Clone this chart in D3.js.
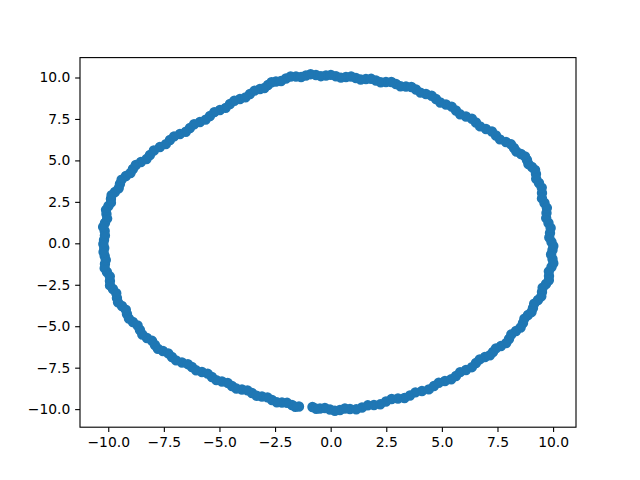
<!DOCTYPE html>
<html>
<head>
<meta charset="utf-8">
<script src="https://cdn.jsdelivr.net/npm/d3@7"></script>
<style>
  html, body { margin: 0; padding: 0; background: #fff; }
  svg { display: block; }
  .tick text { font-family: "DejaVu Sans", sans-serif; font-size: 13.89px; fill: #000; }
</style>
</head>
<body>
<svg id="chart" width="640" height="480"></svg>
<script>
// Scatter point coordinates
const xValues = [
  -10.18, -10.19, -10.16, -10.148, -10.081, -9.991, -9.879, -9.699, -9.474, -9.205,
  -8.890, -8.530, -8.125, -7.676, -7.226, -6.776, -6.327, -5.877, -5.427, -4.978,
  -4.528, -4.078, -3.629, -3.179, -2.819, -2.460, -2.010, -1.560, -1.111, -0.661,
  -0.211, 0.238, 0.688, 1.137, 1.587, 2.037, 2.486, 2.936, 3.386, 3.836,
  4.285, 4.735, 5.184, 5.634, 6.084, 6.533, 6.983, 7.433, 7.882, 8.242,
  8.557, 8.826, 9.051, 9.231, 9.366, 9.501, 9.613, 9.703, 9.793, 9.861,
  9.928, 9.973, 9.973, 9.928, 9.816, 9.681, 9.501, 9.321, 9.096, 8.871,
  8.647, 8.332, 8.017, 7.657, 7.298, 6.938, 6.533, 6.084, 5.634, 5.139,
  4.645, 4.105, 3.565, 3.026, 2.486, 1.947, 1.407, 0.868, 0.418, -0.031,
  -0.481, -0.818, -1.425, -1.740, -2.190, -2.639, -3.089, -3.539, -3.988, -4.438,
  -4.888, -5.338, -5.787, -6.237, -6.686, -7.136, -7.541, -7.900, -8.260, -8.575,
  -8.890, -9.159, -9.384, -9.609, -9.789, -9.924, -10.059, -10.148, -10.16,
  -10.22, -10.15, -10.23, -10.05, -10.10, -9.88, -9.85, -9.53, -9.40, -9.00,
  -8.76, -8.28, -7.95, -7.41, -7.04, -6.51, -6.14, -5.62, -5.23, -4.72,
  -4.33, -3.83, -3.42, -2.98, -2.66, -2.23, -1.80, -1.33, -0.90, -0.44,
  0.01, 0.46, 0.92, 1.35, 1.82, 2.25, 2.73, 3.14, 3.63, 4.04,
  4.54, 4.93, 5.44, 5.82, 6.35, 6.72, 7.25, 7.61, 8.11, 8.35,
  8.74, 8.89, 9.19, 9.24, 9.49, 9.50, 9.72, 9.69, 9.89, 9.83,
  10.01, 9.91, 10.01, 9.81, 9.81, 9.53, 9.47, 9.15, 9.03, 8.71,
  8.54, 8.12, 7.89, 7.43, 7.16, 6.70, 6.35, 5.82, 5.42, 4.86,
  4.41, 3.81, 3.32, 2.74, 2.23, 1.67, 1.15, 0.64, 0.19, -0.26,
  -0.65, -1.59, -1.96, -2.42, -2.84, -3.33, -3.74, -4.24, -4.63, -5.14,
  -5.53, -6.05, -6.42, -6.95, -7.30, -7.77, -8.03, -8.47, -8.68, -9.07,
  -9.21, -9.56, -9.64, -9.92, -9.93, -10.16, -10.11, -10.21
];
const yValues = [
  -0.283, 0.199, 0.742, 1.225, 1.768, 2.250, 2.672, 3.094, 3.577, 4.059,
  4.481, 4.903, 5.326, 5.808, 6.230, 6.592, 6.954, 7.316, 7.678, 8.040,
  8.402, 8.703, 9.005, 9.306, 9.548, 9.759, 9.940, 10.060, 10.121, 10.151,
  10.121, 10.072, 10.030, 9.970, 9.910, 9.819, 9.729, 9.608, 9.457, 9.276,
  9.005, 8.703, 8.372, 8.010, 7.648, 7.286, 6.894, 6.502, 6.110, 5.748,
  5.386, 5.024, 4.602, 4.180, 3.637, 3.034, 2.431, 1.827, 1.224, 0.621,
  0.078, -0.404, -0.947, -1.430, -1.973, -2.455, -2.938, -3.420, -3.903, -4.325,
  -4.807, -5.290, -5.772, -6.194, -6.556, -6.858, -7.220, -7.642, -8.004, -8.305,
  -8.607, -8.909, -9.180, -9.361, -9.542, -9.753, -9.904, -9.994, -10.054, -10.024,
  -9.964, -9.873, -9.843, -9.753, -9.602, -9.451, -9.240, -9.029, -8.818, -8.607,
  -8.335, -8.064, -7.762, -7.461, -7.190, -6.858, -6.496, -6.134, -5.712, -5.229,
  -4.747, -4.264, -3.782, -3.299, -2.757, -2.274, -1.731, -1.249, -0.766,
  -0.04, 0.47, 0.99, 1.49, 2.02, 2.45, 2.90, 3.32, 3.84, 4.24,
  4.72, 5.08, 5.60, 5.98, 6.45, 6.73, 7.18, 7.46, 7.91, 8.17,
  8.60, 8.80, 9.21, 9.37, 9.71, 9.79, 10.06, 10.03, 10.20, 10.08,
  10.16, 9.99, 10.06, 9.88, 9.92, 9.71, 9.73, 9.47, 9.43, 9.09,
  8.90, 8.49, 8.24, 7.78, 7.51, 7.05, 6.74, 6.27, 5.97, 5.54,
  5.24, 4.78, 4.42, 3.89, 3.36, 2.71, 2.14, 1.52, 0.93, 0.35,
  -0.16, -0.67, -1.20, -1.69, -2.23, -2.68, -3.20, -3.64, -4.14, -4.54,
  -5.08, -5.50, -6.02, -6.34, -6.75, -7.00, -7.47, -7.77, -8.20, -8.41,
  -8.81, -8.99, -9.33, -9.39, -9.71, -9.77, -10.01, -9.96, -10.10, -9.93,
  -9.98, -9.86, -9.62, -9.59, -9.29, -9.19, -8.87, -8.76, -8.42, -8.25,
  -7.86, -7.66, -7.29, -7.06, -6.64, -6.36, -5.88, -5.50, -4.96, -4.54,
  -4.00, -3.56, -3.01, -2.54, -1.99, -1.50, -1.00, -0.52
];
const xTicks = [-10, -7.5, -5, -2.5, 0, 2.5, 5, 7.5, 10];
const yTicks = [-10, -7.5, -5, -2.5, 0, 2.5, 5, 7.5, 10];
const xLimits = [-11.27, 11.03];
const yLimits = [-11.09, 11.2];

const svg = d3.select("#chart");
const axL = 80, axR = 576, axT = 57.6, axB = 427.2;
const pt = 100 / 72;

const x = d3.scaleLinear().domain(xLimits).range([axL, axR]);
const y = d3.scaleLinear().domain(yLimits).range([axB, axT]);

const points = xValues.map((v, i) => ({ x: v, y: yValues[i] }));

svg.append("clipPath").attr("id", "plotclip")
  .append("rect").attr("x", axL).attr("y", axT)
  .attr("width", axR - axL).attr("height", axB - axT);

svg.append("g").attr("clip-path", "url(#plotclip)")
  .selectAll("circle").data(points).join("circle")
  .attr("cx", d => x(d.x))
  .attr("cy", d => y(d.y))
  .attr("r", 3 * pt)
  .attr("fill", "#1f77b4")
  .attr("stroke", "#1f77b4")
  .attr("stroke-width", 1.5 * pt);

const fmt = d3.format(".1f");
const tickLen = 3.5 * pt, tickPad = 3.5 * pt;

const xAxis = svg.append("g").attr("transform", `translate(0,${axB})`)
  .call(d3.axisBottom(x).tickValues(xTicks).tickFormat(fmt).tickSize(tickLen).tickPadding(tickPad).tickSizeOuter(0));
const yAxis = svg.append("g").attr("transform", `translate(${axL},0)`)
  .call(d3.axisLeft(y).tickValues(yTicks).tickFormat(fmt).tickSize(tickLen).tickPadding(tickPad).tickSizeOuter(0));

[xAxis, yAxis].forEach(g => {
  g.select(".domain").remove();
  g.selectAll(".tick line").attr("stroke", "#000").attr("stroke-width", 0.8 * pt);
  g.attr("font-family", null).attr("font-size", null);
});

svg.append("rect")
  .attr("x", axL).attr("y", axT)
  .attr("width", axR - axL).attr("height", axB - axT)
  .attr("fill", "none").attr("stroke", "#000").attr("stroke-width", 0.8 * pt);
</script>
</body>
</html>
